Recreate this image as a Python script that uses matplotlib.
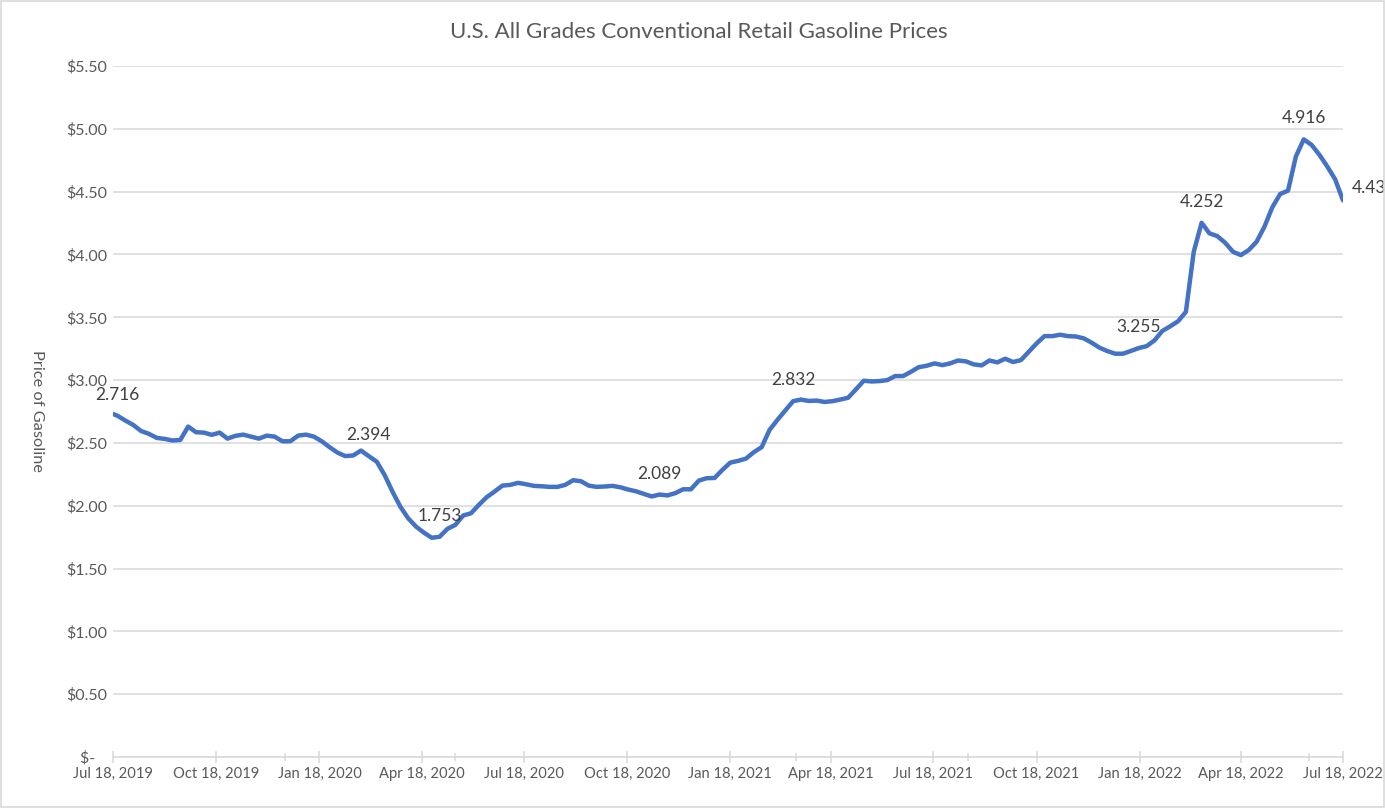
import numpy as np
import pandas as pd
import matplotlib
matplotlib.use("Agg")
import matplotlib.pyplot as plt
import matplotlib.dates as mdates
from matplotlib.patches import Rectangle
from matplotlib.ticker import FixedLocator, FuncFormatter

plt.rcParams['font.family'] = ['Lato', 'DejaVu Sans']

# weekly prices (Mondays), Jul 15, 2019 -> Jul 18, 2022
start_date = '2019-07-15'
prices = [
    2.741, 2.716, 2.678, 2.643, 2.595, 2.572, 2.540, 2.532, 2.519, 2.524,
    2.630, 2.585, 2.582, 2.564, 2.582, 2.534, 2.556, 2.566, 2.550, 2.534,
    2.558, 2.550, 2.513, 2.513, 2.558, 2.566, 2.550, 2.513, 2.466, 2.423,
    2.395, 2.400, 2.439, 2.394, 2.351, 2.245, 2.113, 1.993, 1.900, 1.834,
    1.786, 1.745, 1.753, 1.816, 1.847, 1.922, 1.940, 2.007, 2.068, 2.113,
    2.160, 2.166, 2.182, 2.171, 2.158, 2.155, 2.150, 2.150, 2.166, 2.203,
    2.195, 2.160, 2.150, 2.153, 2.158, 2.147, 2.129, 2.115, 2.094, 2.074,
    2.089, 2.082, 2.100, 2.131, 2.131, 2.200, 2.219, 2.221, 2.285, 2.343,
    2.357, 2.375, 2.426, 2.466, 2.603, 2.683, 2.757, 2.832, 2.845, 2.834,
    2.837, 2.826, 2.832, 2.845, 2.859, 2.926, 2.995, 2.989, 2.992, 3.000,
    3.032, 3.032, 3.066, 3.103, 3.114, 3.133, 3.119, 3.133, 3.156, 3.149,
    3.125, 3.117, 3.156, 3.141, 3.170, 3.144, 3.159, 3.225, 3.292, 3.350,
    3.350, 3.361, 3.350, 3.347, 3.332, 3.298, 3.258, 3.231, 3.210, 3.210,
    3.232, 3.255, 3.270, 3.316, 3.391, 3.428, 3.468, 3.543, 4.021, 4.252,
    4.168, 4.146, 4.093, 4.021, 3.995, 4.035, 4.101, 4.221, 4.375, 4.481,
    4.508, 4.779, 4.916, 4.872, 4.793, 4.700, 4.598, 4.430,
]

# points that carry a data label
label_idx = [1, 33, 42, 70, 87, 131, 139, 152, 157]
label_txt = ['2.716', '2.394', '1.753', '2.089', '2.832', '3.255', '4.252', '4.916', '4.43']

y_ticks = [0, 0.5, 1.0, 1.5, 2.0, 2.5, 3.0, 3.5, 4.0, 4.5, 5.0, 5.5]
x_start = '2019-07-18'
x_end = '2022-07-18'

title = 'U.S. All Grades Conventional Retail Gasoline Prices'
y_title = 'Price of Gasoline'

GRID = '#D9D9D9'
TXT = '#595959'
BLUE = '#4472C4'


def money(v, pos=None):
    # accounting style: zero shows as a dash
    if v == 0:
        return '$-   '
    return '${:.2f}'.format(v)


def main():
    dates = pd.date_range(start_date, periods=len(prices), freq='7D')
    y = np.array(prices)

    W, H = 1385, 808
    fig = plt.figure(figsize=(W / 100, H / 100), dpi=100)
    ax = fig.add_axes([113 / W, 1 - 757 / H, (1343 - 113) / W, (757 - 66) / H])

    ax.plot(dates, y, color=BLUE, lw=3.2, solid_joinstyle='round', solid_capstyle='round', zorder=3)

    for i, t in zip(label_idx, label_txt):
        if i == len(prices) - 1:
            ax.annotate(t, (dates[i], y[i]), xytext=(9, 12), textcoords='offset pixels',
                        ha='left', va='center', fontsize=12.5, color='#404040',
                        annotation_clip=False)
        else:
            ax.annotate(t, (dates[i], y[i]), xytext=(0, 21), textcoords='offset pixels',
                        ha='center', va='center', fontsize=12.5, color='#404040')

    ax.set_ylim(0, 5.5)
    x0, x1 = pd.Timestamp(x_start), pd.Timestamp(x_end)
    ax.set_xlim(x0, x1)

    ax.set_yticks(y_ticks)
    ax.yaxis.set_major_formatter(FuncFormatter(money))
    ax.grid(axis='y', color=GRID, lw=1.1)
    ax.set_axisbelow(True)

    # Excel style date axis: labels every 3 months, extra ticks every 5 months
    major = [x0 + pd.DateOffset(months=3 * i) for i in range(13)]
    minor = [x0 + pd.DateOffset(months=5 * i) for i in range(8)]
    ax.xaxis.set_major_locator(FixedLocator(mdates.date2num(major)))
    ax.xaxis.set_minor_locator(FixedLocator(mdates.date2num(minor)))
    ax.xaxis.set_major_formatter(mdates.DateFormatter('%b %d, %Y'))

    for s in ['top', 'right', 'left']:
        ax.spines[s].set_visible(False)
    ax.spines['bottom'].set_color(GRID)
    ax.spines['bottom'].set_linewidth(1.1)

    ax.tick_params(axis='x', which='major', direction='inout', length=8, width=1.1,
                   color=GRID, labelsize=10.6, labelcolor=TXT, pad=3)
    ax.tick_params(axis='x', which='minor', direction='inout', length=6, width=1.1, color=GRID)
    ax.tick_params(axis='y', length=0, labelsize=11.5, labelcolor=TXT, pad=4)

    fig.text(699 / W, 1 - 32 / H, title, ha='center', va='center', fontsize=16, color=TXT)
    fig.text(37 / W, 1 - 411 / H, y_title, ha='center', va='center', rotation=-90,
             fontsize=11.8, color=TXT)

    fig.patches.append(Rectangle((0.001, 0.001), 0.998, 0.998, transform=fig.transFigure,
                                 fill=False, edgecolor=GRID, lw=1.2))

    fig.savefig('out.png', dpi=100, facecolor='white')


if __name__ == '__main__':
    main()
